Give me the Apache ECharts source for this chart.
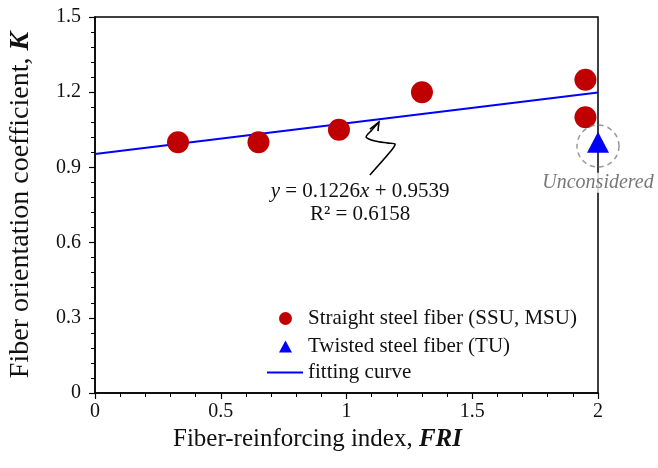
<!DOCTYPE html>
<html>
<head>
<meta charset="utf-8">
<script src="https://cdn.jsdelivr.net/npm/echarts@6/dist/echarts.min.js"></script>
<style>
  html, body { margin: 0; padding: 0; background: #fff; }
  #main { width: 658px; height: 468px; }
</style>
</head>
<body>
<div id="main"></div>
<script>
// straight steel fiber (SSU, MSU)
var straightFRI = [0.33, 0.65, 0.97, 1.30, 1.95, 1.95];
var straightK = [1.00, 1.00, 1.05, 1.20, 1.25, 1.10];
// twisted steel fiber (TU)
var twistedFRI = [2.0];
var twistedK = [1.0];
// fitting curve y = 0.1226x + 0.9539
var fitFRI = [0, 2];
var fitK = [0.9539, 1.1991];
// unconsidered marker
var unconsideredFRI = [2.0];
var unconsideredK = [0.985];

var xTicks = ['0', '0.5', '1', '1.5', '2'];
var yTicks = ['0', '0.3', '0.6', '0.9', '1.2', '1.5'];

var seriesNames = ['Straight steel fiber (SSU, MSU)', 'Twisted steel fiber (TU)', 'fitting curve'];

// annotation (data coords)
var eqText = ['{i|y} = 0.1226{i|x} + 0.9539', 'R² = 0.6158'];
var eqPos = [[1.054, 0.805], [1.054, 0.713]];
var arrowBody = [[1.129, 1.081], [1.101, 1.049], [1.078, 1.021], [1.113, 1.005], [1.165, 0.997],
  [1.193, 0.993], [1.173, 0.961], [1.093, 0.870]];
var arrowHead = [[1.093, 1.053], [1.129, 1.081], [1.125, 1.045]];

var font = 'Liberation Serif';

function zip(a, b) {
  return a.map(function (v, i) { return [v, b[i]]; });
}

var legendText = { fontFamily: font, fontSize: 21, color: '#111', lineHeight: 20 };
var legendTextPad = Object.assign({ padding: [0, 0, 0, 11] }, legendText);

var myChart = echarts.init(document.getElementById('main'));
myChart.setOption({
  animation: false,
  textStyle: { fontFamily: font },
  grid: {
    left: 95, right: 60, top: 17, bottom: 75,
    outerBoundsMode: 'none',
    show: true, borderColor: '#000', borderWidth: 1.5
  },
  // one legend per row so each icon gets its own size
  legend: [
    {
      orient: 'vertical', left: 279, top: 308, padding: 0,
      itemWidth: 13, itemHeight: 13,
      textStyle: legendTextPad,
      data: [{ name: seriesNames[0], icon: 'circle' }]
    },
    {
      orient: 'vertical', left: 279, top: 336, padding: 0,
      itemWidth: 13, itemHeight: 12,
      textStyle: legendTextPad,
      data: [{ name: seriesNames[1], icon: 'triangle' }]
    },
    {
      orient: 'vertical', left: 267, top: 362, padding: 0,
      itemWidth: 36, itemHeight: 2,
      textStyle: legendText,
      data: [{ name: seriesNames[2], icon: 'rect' }]
    }
  ],
  xAxis: {
    type: 'value',
    min: 0, max: 2, interval: 0.5,
    name: 'Fiber-reinforcing index, {b|FRI}',
    nameLocation: 'middle',
    nameGap: 32,
    nameTextStyle: {
      fontFamily: font, fontSize: 25, color: '#111',
      padding: [0, 58, 0, 0],
      rich: { b: { fontFamily: font, fontSize: 25, fontWeight: 'bold', fontStyle: 'italic', color: '#111' } }
    },
    axisLine: { lineStyle: { color: '#000', width: 1.5 } },
    axisTick: { show: true, length: 6, lineStyle: { color: '#000', width: 1.2 } },
    minorTick: { show: true, splitNumber: 5, length: 4, lineStyle: { color: '#000', width: 1 } },
    splitLine: { show: false },
    axisLabel: {
      margin: 9, fontFamily: font, fontSize: 20, color: '#111',
      formatter: function (v) { return xTicks[Math.round(v / 0.5)]; }
    }
  },
  yAxis: {
    type: 'value',
    min: 0, max: 1.5, interval: 0.3,
    name: 'Fiber orientation coefficient, {b|K}',
    nameLocation: 'middle',
    nameGap: 60,
    nameTextStyle: {
      fontFamily: font, fontSize: 28, color: '#111',
      rich: { b: { fontFamily: font, fontSize: 28, fontWeight: 'bold', fontStyle: 'italic', color: '#111' } }
    },
    axisLine: { lineStyle: { color: '#000', width: 1.5 } },
    axisTick: { show: true, length: 6, lineStyle: { color: '#000', width: 1.2 } },
    minorTick: { show: true, splitNumber: 5, length: 4, lineStyle: { color: '#000', width: 1 } },
    splitLine: { show: false },
    axisLabel: {
      margin: 14, fontFamily: font, fontSize: 20, color: '#111',
      formatter: function (v) { return yTicks[Math.round(v / 0.3)]; }
    }
  },
  series: [
    {
      name: seriesNames[2],
      type: 'line',
      data: zip(fitFRI, fitK),
      symbol: 'none',
      lineStyle: { color: '#0000FF', width: 2 },
      itemStyle: { color: '#0000FF' },
      z: 2
    },
    {
      name: seriesNames[0],
      type: 'scatter',
      data: zip(straightFRI, straightK),
      symbol: 'circle',
      symbolSize: 22,
      itemStyle: { color: '#C00000', opacity: 1 },
      z: 3
    },
    {
      name: 'unconsidered',
      type: 'scatter',
      data: zip(unconsideredFRI, unconsideredK),
      symbol: 'circle',
      symbolSize: 42,
      silent: true,
      itemStyle: { color: 'rgba(0,0,0,0)', borderColor: '#808080', borderWidth: 1.5, borderType: [5, 4] },
      label: {
        show: true, position: 'bottom', distance: 5,
        formatter: 'Unconsidered',
        fontFamily: font, fontStyle: 'italic', fontSize: 20, color: '#555',
        backgroundColor: '#fff', padding: [0, 1]
      },
      z: 4
    },
    {
      name: seriesNames[1],
      type: 'scatter',
      data: zip(twistedFRI, twistedK),
      symbol: 'triangle',
      symbolSize: [22, 21],
      itemStyle: { color: '#0000FF', opacity: 1 },
      z: 5
    }
  ]
});

// equation text + curly arrow, placed by data coords
function px(p) { return myChart.convertToPixel({ gridIndex: 0 }, p); }
myChart.setOption({
  graphic: [
    {
      type: 'text',
      x: px(eqPos[0])[0], y: px(eqPos[0])[1],
      style: {
        text: eqText[0], fontFamily: font, fontSize: 21, fill: '#111',
        align: 'center', verticalAlign: 'middle',
        rich: { i: { fontFamily: font, fontSize: 21, fontStyle: 'italic', fill: '#111' } }
      }
    },
    {
      type: 'text',
      x: px(eqPos[1])[0], y: px(eqPos[1])[1],
      style: {
        text: eqText[1], fontFamily: font, fontSize: 21, fill: '#111',
        align: 'center', verticalAlign: 'middle'
      }
    },
    {
      type: 'polyline',
      shape: { points: arrowBody.map(px), smooth: 0.3 },
      style: { stroke: '#000', lineWidth: 1.6, fill: null }
    },
    {
      type: 'polyline',
      shape: { points: arrowHead.map(px) },
      style: { stroke: '#000', lineWidth: 1.6, fill: null }
    }
  ]
});
</script>
</body>
</html>
